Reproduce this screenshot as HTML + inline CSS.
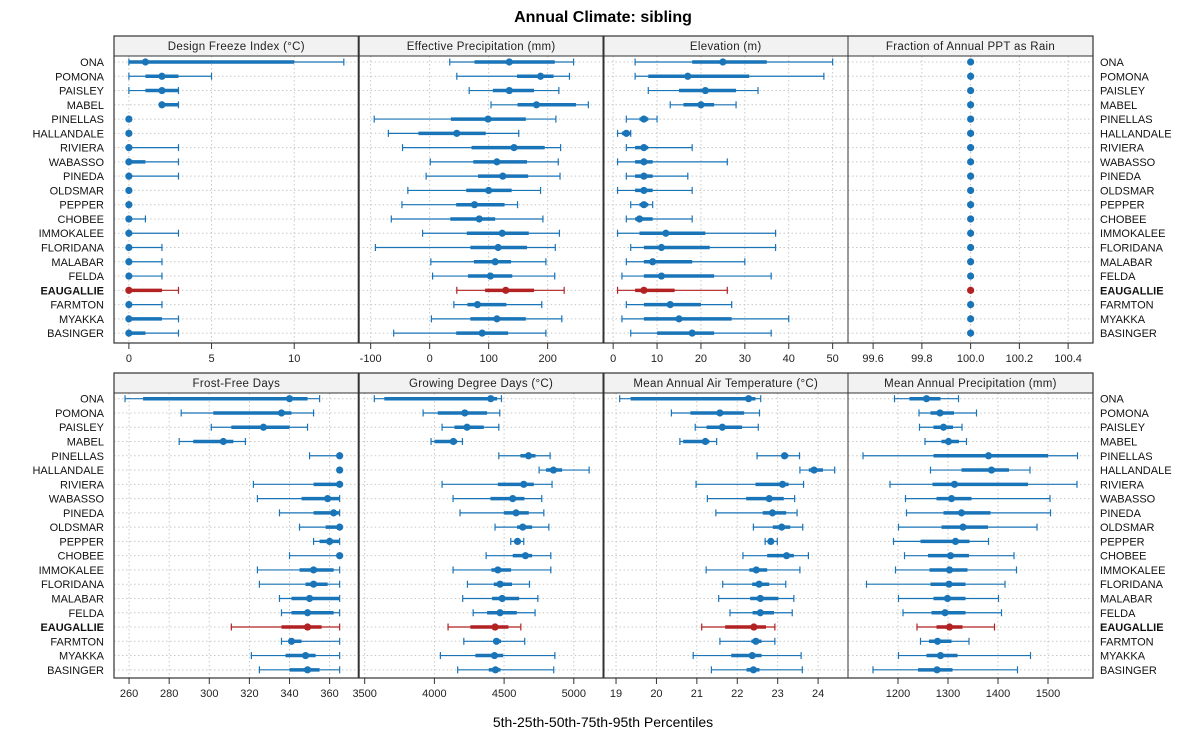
<!DOCTYPE html>
<html><head><meta charset="utf-8"><style>
html,body{margin:0;padding:0;background:#fff;}
svg text{font-family:"Liberation Sans",sans-serif;}
</style></head><body>
<svg id="chart" width="1200" height="750" viewBox="0 0 1200 750" xmlns="http://www.w3.org/2000/svg">
<text x="603" y="22" text-anchor="middle" font-size="16" font-weight="bold">Annual Climate: sibling</text>
<text x="603" y="727" text-anchor="middle" font-size="14">5th-25th-50th-75th-95th Percentiles</text>
</svg>
<script>
const stations = ["ONA","POMONA","PAISLEY","MABEL","PINELLAS","HALLANDALE","RIVIERA","WABASSO","PINEDA","OLDSMAR","PEPPER","CHOBEE","IMMOKALEE","FLORIDANA","MALABAR","FELDA","EAUGALLIE","FARMTON","MYAKKA","BASINGER"];
const highlight = "EAUGALLIE";
const panelTitles = ["Design Freeze Index (°C)","Effective Precipitation (mm)","Elevation (m)","Fraction of Annual PPT as Rain","Frost-Free Days","Growing Degree Days (°C)","Mean Annual Air Temperature (°C)","Mean Annual Precipitation (mm)"];
const dfi = [[0,0,1,10,13],[0,1,2,3,5],[0,1,2,3,3],[2,2,2,3,3],[0,0,0,0,0],[0,0,0,0,0],[0,0,0,0,3],[0,0,0,1,3],[0,0,0,0,3],[0,0,0,0,0],[0,0,0,0,0],[0,0,0,0,1],[0,0,0,0,3],[0,0,0,0,2],[0,0,0,0,2],[0,0,0,0,2],[0,0,0,2,3],[0,0,0,0,2],[0,0,0,2,3],[0,0,0,1,3]];
const effp = [[34,76,135,212,244],[46,148,188,210,237],[67,107,135,177,219],[104,149,181,248,269],[-94,36,99,163,214],[-70,-19,46,95,151],[-46,71,143,195,222],[1,74,114,165,218],[-6,82,124,167,221],[-37,62,100,139,188],[-47,45,76,127,149],[-65,35,84,111,192],[-12,63,123,168,220],[-92,69,116,165,213],[2,75,111,138,197],[5,65,103,140,212],[46,94,129,177,228],[41,64,81,130,190],[3,69,114,163,224],[-61,45,89,133,197]];
const elev = [[5,18,25,35,50],[5,8,17,31,48],[8,15,21,28,33],[13,16,20,23,28],[3,6,7,8,10],[1,2,3,4,4],[3,5,7,8,18],[1,5,7,9,26],[3,5,7,9,17],[1,5,7,9,18],[4,6,7,8,9],[3,5,6,9,18],[1,6,12,21,37],[4,7,11,22,37],[3,7,9,18,30],[2,7,11,23,36],[1,5,7,14,26],[3,7,13,20,27],[2,7,15,27,40],[4,10,18,23,36]];
const fracRain = stations.map(()=>[100,100,100,100,100]);
const ffd = [[258,267,340,349,355],[286,302,336,341,352],[301,311,327,340,349],[285,292,307,312,318],[350,365,365,365,365],[365,365,365,365,365],[322,352,365,365,365],[324,346,359,365,365],[335,352,362,365,365],[345,358,365,365,365],[352,355,360,365,365],[340,365,365,365,365],[324,345,352,362,365],[325,348,352,359,365],[335,341,350,365,365],[336,341,349,362,365],[311,336,349,356,365],[336,340,341,346,365],[321,338,348,353,365],[325,340,349,355,365]];
const gdd = [[3569,3641,4404,4450,4481],[3919,4024,4218,4378,4469],[4055,4144,4234,4354,4462],[3976,4000,4136,4163,4201],[4462,4617,4675,4725,4830],[4751,4801,4854,4916,5110],[4055,4455,4641,4713,4844],[4134,4402,4562,4646,4770],[4184,4498,4586,4677,4785],[4435,4593,4634,4701,4821],[4548,4574,4596,4617,4641],[4371,4562,4653,4701,4835],[4134,4409,4455,4550,4835],[4237,4426,4471,4557,4682],[4203,4414,4486,4608,4742],[4278,4378,4471,4591,4722],[4098,4258,4435,4531,4620],[4211,4426,4445,4478,4648],[4043,4294,4431,4493,4864],[4167,4390,4438,4474,4856]];
const maat = [[19.09,19.36,22.28,22.45,22.58],[20.37,20.84,21.57,22.17,22.55],[20.96,21.24,21.63,22.12,22.52],[20.58,20.66,21.21,21.31,21.49],[22.49,23.09,23.17,23.26,23.54],[23.55,23.77,23.90,24.12,24.41],[20.98,22.45,23.12,23.27,23.64],[21.26,22.22,22.79,23.15,23.42],[21.47,22.63,22.87,23.21,23.48],[22.40,22.88,23.10,23.31,23.62],[22.69,22.76,22.83,22.89,22.99],[22.14,22.74,23.22,23.40,23.76],[21.23,22.30,22.47,22.74,23.55],[21.64,22.37,22.54,22.79,23.20],[21.54,22.32,22.57,23.02,23.40],[21.82,22.38,22.57,22.91,23.36],[21.12,21.70,22.41,22.71,22.93],[21.57,22.35,22.46,22.60,22.93],[20.91,21.85,22.37,22.60,23.58],[21.36,22.23,22.40,22.55,23.61]];
const map = [[1193,1223,1257,1285,1321],[1242,1265,1284,1312,1357],[1243,1271,1291,1310,1328],[1254,1287,1301,1322,1337],[1130,1271,1381,1500,1559],[1265,1327,1387,1422,1464],[1184,1269,1313,1460,1558],[1215,1277,1307,1347,1504],[1217,1291,1327,1385,1505],[1201,1287,1330,1380,1478],[1191,1245,1315,1343,1381],[1213,1260,1305,1342,1432],[1195,1263,1303,1339,1437],[1137,1265,1302,1335,1414],[1201,1271,1299,1335,1401],[1210,1267,1294,1335,1407],[1238,1277,1303,1329,1393],[1245,1262,1279,1307,1342],[1201,1257,1285,1319,1465],[1150,1240,1278,1309,1439]];
const ticksDFI = [0,5,10];
const ticksEffp = [-100,0,100,200];
const ticksElev = [0,10,20,30,40,50];
const ticksFrac = [99.6,99.8,100.0,100.2,100.4];
const ticksFFD = [260,280,300,320,340,360];
const ticksGDD = [3500,4000,4500,5000];
const ticksMAAT = [19,20,21,22,23,24];
const ticksMAP = [1200,1300,1400,1500];

const svg = document.getElementById('chart');
const NS = "http://www.w3.org/2000/svg";
function mk(tag, attrs, parent){const e=document.createElementNS(NS,tag);for(const k in attrs)e.setAttribute(k,attrs[k]);(parent||svg).appendChild(e);return e;}

const colX = [114,358.7,603.5,848,1093];
const panels = [
 {data:dfi, ticks:ticksDFI, dom:[-0.9,13.9], fmt:v=>String(v), row:0},
 {data:effp, ticks:ticksEffp, dom:[-120.3,294.7], fmt:v=>String(v), row:0},
 {data:elev, ticks:ticksElev, dom:[-2.2,53.5], fmt:v=>String(v), row:0},
 {data:fracRain, ticks:ticksFrac, dom:[99.497,100.502], fmt:v=>v.toFixed(1), row:0},
 {data:ffd, ticks:ticksFFD, dom:[252.5,374.5], fmt:v=>String(v), row:1},
 {data:gdd, ticks:ticksGDD, dom:[3457,5213], fmt:v=>String(v), row:1},
 {data:maat, ticks:ticksMAAT, dom:[18.69,24.74], fmt:v=>String(v), row:1},
 {data:map, ticks:ticksMAP, dom:[1100,1590], fmt:v=>String(v), row:1},
];
const rows = [{stripTop:36, top:56, bottom:343, y0:62},{stripTop:373, top:393, bottom:678, y0:398.7}];
const rowStep = 14.27;
const BLUE = "#1a74b8", RED = "#b22222";

panels.forEach((p,pi)=>{
  const c = pi%4, r = rows[p.row];
  const x0 = colX[c], x1 = colX[c+1];
  const sx = v => x0 + (v-p.dom[0])/(p.dom[1]-p.dom[0])*(x1-x0);
  const yOf = i => r.y0 + i*rowStep;
  const g = mk('g',{});
  
  
  const st = mk('rect',{x:x0,y:r.stripTop,width:x1-x0,height:r.top-r.stripTop,fill:"#f2f2f2",stroke:"#333","stroke-width":1},g);
  
  
  const tt = mk('text',{x:(x0+x1)/2,y:r.stripTop+14,"text-anchor":"middle","font-size":11.5,"letter-spacing":0.3,fill:"#222"},g);
  tt.textContent = panelTitles[pi];
  
  
  stations.forEach((s,i)=>{ mk('line',{x1:x0,x2:x1,y1:yOf(i),y2:yOf(i),stroke:"#c8c8c8","stroke-dasharray":"1.5,2.5","stroke-width":1},g); });
  p.ticks.forEach(t=>{
    const x = sx(t);
    mk('line',{x1:x,x2:x,y1:r.top,y2:r.bottom,stroke:"#c8c8c8","stroke-dasharray":"1.5,2.5","stroke-width":1},g);
    mk('line',{x1:x,x2:x,y1:r.bottom,y2:r.bottom+6,stroke:"#333","stroke-width":1},g);
    const tl = mk('text',{x:x,y:r.bottom+19,"text-anchor":"middle","font-size":11,fill:"#222"},g);
    tl.textContent = p.fmt(t);
    
    
  });
  p.data.forEach((d,i)=>{
    const y = yOf(i), col = stations[i]===highlight?RED:BLUE;
    const m = mk('g',{},g);
    
    
    mk('line',{x1:sx(d[0]),x2:sx(d[4]),y1:y,y2:y,stroke:col,"stroke-width":1.2},m);
    mk('line',{x1:sx(d[0]),x2:sx(d[0]),y1:y-3.5,y2:y+3.5,stroke:col,"stroke-width":1.2},m);
    mk('line',{x1:sx(d[4]),x2:sx(d[4]),y1:y-3.5,y2:y+3.5,stroke:col,"stroke-width":1.2},m);
    mk('line',{x1:sx(d[1]),x2:sx(d[3]),y1:y,y2:y,stroke:col,"stroke-width":3.5},m);
    mk('circle',{cx:sx(d[2]),cy:y,r:3.6,fill:col},m);
  });
  const fr = mk('rect',{x:x0,y:r.top,width:x1-x0,height:r.bottom-r.top,fill:"none",stroke:"#333","stroke-width":1},g);
  
  
});
rows.forEach((r,ri)=>{
  mk('rect',{x:114,y:r.stripTop,width:979,height:r.bottom-r.stripTop,fill:"none",stroke:"#333","stroke-width":1.2});
  [358.7,603.5].forEach(x=>mk('line',{x1:x,x2:x,y1:r.stripTop,y2:r.bottom,stroke:"#333","stroke-width":2}));
  stations.forEach((s,i)=>{
    const y = r.y0 + i*rowStep + 4;
    const bold = s===highlight ? "bold" : "normal";
    const l = mk('text',{x:104,y:y,"text-anchor":"end","font-size":11,"font-weight":bold,fill:"#111"});
    l.textContent = s;
    
    
    const rr = mk('text',{x:1100,y:y,"text-anchor":"start","font-size":11,"font-weight":bold,fill:"#111"});
    rr.textContent = s;
    
    
  });
});
</script>
</body></html>
